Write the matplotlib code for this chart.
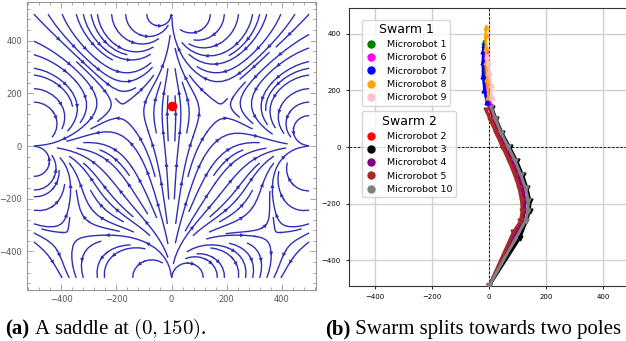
import numpy as np
import matplotlib
matplotlib.use("Agg")
import matplotlib.pyplot as plt
from matplotlib.patches import FancyArrowPatch
from matplotlib.lines import Line2D
from matplotlib.ticker import MultipleLocator

plt.rcParams["mathtext.fontset"] = "cm"

# ---- (a) field of four coils (planar dipoles); bottom strength set so B=0 at the saddle ----
COIL_X = [-500, 500, 0]
COIL_Y = [0, 0, 500]
COIL_MX = [-1.0, 1.0, 0.0]
COIL_MY = [0.0, 0.0, 1.0]
BOTTOM_COIL = (0, -500)
SADDLE = (0, 150)

# ---- (b) trajectories ----
SWARM1 = {
    "Microrobot 1": ("green",   [-5, -12, -17, -19, -18, -17], [165, 210, 260, 310, 350, 371]),
    "Microrobot 6": ("magenta", [0, -6, -10, -12, -12, -10], [160, 200, 250, 300, 330, 345]),
    "Microrobot 7": ("blue",    [-8, -16, -21, -22, -20, -17], [160, 200, 250, 300, 340, 360]),
    "Microrobot 8": ("orange",  [-2, -6, -9, -11, -12, -10], [175, 240, 300, 350, 395, 424]),
    "Microrobot 9": ("pink",    [10, 6, 0, -4, -6], [175, 220, 265, 300, 320]),
}
SWARM2 = {
    "Microrobot 2":  ("red",    [0, 14, 33, 57, 80, 100, 115, 124, 124, 118, 0],
                      [145, 100, 50, 0, -50, -100, -145, -190, -225, -255, -490]),
    "Microrobot 3":  ("black",  [10, 25, 46, 72, 97, 118, 133, 143, 142, 130, 108, 0],
                      [138, 98, 48, 0, -50, -100, -145, -190, -225, -262, -320, -490]),
    "Microrobot 4":  ("purple", [5, 18, 38, 62, 85, 104, 118, 126, 125, 115, 92, 0],
                      [140, 100, 50, 0, -50, -100, -145, -190, -225, -262, -305, -490]),
    "Microrobot 5":  ("brown",  [-10, 5, 24, 47, 70, 90, 105, 114, 116, 110, 85, 0],
                      [130, 95, 50, 0, -50, -100, -145, -190, -225, -262, -300, -490]),
    "Microrobot 10": ("gray",   [8, 22, 42, 68, 92, 112, 128, 138, 136, 128, 0],
                      [140, 100, 50, 0, -50, -100, -145, -190, -225, -260, -490]),
}
TICKS = [-400, -200, 0, 200, 400]

STREAM = "#2e2eb8"


def dipole(xx, yy, x0, y0, mx, my):
    dx, dy = xx - x0, yy - y0
    r = np.hypot(dx, dy) + 1e-9
    rx, ry = dx / r, dy / r
    mr = mx * rx + my * ry
    return (2 * mr * rx - mx) / r**2, (2 * mr * ry - my) / r**2


fig = plt.figure(figsize=(6.26, 3.41), dpi=100)

# ================= (a) =================
ax1 = fig.add_axes([27 / 626, 51 / 341, 289 / 626, 288 / 341])
g = np.linspace(-500, 500, 251)
X, Y = np.meshgrid(g, g)
coils = list(zip(COIL_X, COIL_Y, COIL_MX, COIL_MY))
sx, sy = np.array(float(SADDLE[0])), np.array(float(SADDLE[1]))
others = sum(dipole(sx, sy, *c)[1] for c in coils)
unit = dipole(sx, sy, *BOTTOM_COIL, 0, -1)[1]
coils.append((*BOTTOM_COIL, 0, -others / unit))

U = np.zeros_like(X)
V = np.zeros_like(X)
for c in coils:
    du, dv = dipole(X, Y, *c)
    U += du
    V += dv

sp = ax1.streamplot(X, Y, U, V, density=1.35, color=STREAM, linewidth=1.0,
                    arrowstyle="-", minlength=0.15)
# several arrow heads per streamline, like the original
for seg in sp.lines.get_segments():
    if len(seg) < 3:
        continue
    d = np.hypot(np.diff(seg[:, 0]), np.diff(seg[:, 1]))
    s = np.concatenate([[0], np.cumsum(d)])
    L = s[-1]
    n = max(1, int(L / 150))
    for k in range(1, n + 1):
        i = np.searchsorted(s, L * k / (n + 1))
        i = min(max(i, 1), len(seg) - 2)
        ax1.add_patch(FancyArrowPatch(seg[i], seg[i + 1], arrowstyle="-|>",
                                      mutation_scale=7.5, color=STREAM, lw=0, zorder=3))

ax1.plot(*SADDLE, "o", color="red", ms=6, zorder=4)
ax1.set_xlim(-525, 525)
ax1.set_ylim(-546, 546)
ax1.set_xticks(TICKS)
ax1.set_yticks(TICKS)
ax1.xaxis.set_minor_locator(MultipleLocator(40))
ax1.yaxis.set_minor_locator(MultipleLocator(40))
ax1.tick_params(which="both", direction="in", top=True, right=True,
                colors="#999999", labelcolor="#555555", labelsize=6, width=0.6)
ax1.tick_params(which="major", length=4)
ax1.tick_params(which="minor", length=2)
for sp_ in ax1.spines.values():
    sp_.set_color("#999999")
    sp_.set_linewidth(0.8)

# ================= (b) =================
ax2 = fig.add_axes([349 / 626, 55 / 341, 280 / 626, 278 / 341])
ax2.set_xlim(-490, 490)
ax2.set_ylim(-490, 490)
ax2.set_xticks(TICKS)
ax2.set_yticks(TICKS)
ax2.grid(True, color="#d0d0d0", lw=1.0)
ax2.set_axisbelow(True)
ax2.axhline(0, color="black", ls="--", lw=0.6, dashes=(3, 2))
ax2.axvline(0, color="black", ls="--", lw=0.6, dashes=(3, 2))
ax2.tick_params(labelsize=5, length=2.5, width=0.6)
for sp_ in ax2.spines.values():
    sp_.set_linewidth(0.8)
    sp_.set_color("#333333")

for name, (c, xs, ys) in SWARM2.items():
    ax2.plot(xs, ys, color=c, lw=2.2, marker="v", ms=3.5, zorder=3)
for name, (c, xs, ys) in SWARM1.items():
    ax2.plot(xs, ys, color=c, lw=1.8, marker="^", ms=3.5, zorder=3)


def handles(dct):
    return [Line2D([], [], ls="none", marker="o", color=c, ms=5, label=n)
            for n, (c, _, _) in dct.items()]


leg_kw = dict(loc="upper left", fontsize=6.8, title_fontsize=9, labelspacing=0.45,
              handlelength=1.2, handletextpad=1.1, borderpad=0.35)
leg1 = ax2.legend(handles=handles(SWARM1), title="Swarm 1",
                  bbox_to_anchor=(0.03, 0.975), **leg_kw)
ax2.add_artist(leg1)
ax2.legend(handles=handles(SWARM2), title="Swarm 2",
           bbox_to_anchor=(0.03, 0.645), **leg_kw)

# ================= captions =================
cap = dict(fontsize=15, family="Liberation Serif", va="baseline")
fig.canvas.draw()
rend = fig.canvas.get_renderer()
for x0, tag, rest in [(5, "(a)", " A saddle at $(0, 150)$."),
                      (325, "(b)", " Swarm splits towards two poles")]:
    t = fig.text(x0 / 626, 7 / 341, tag, weight="bold", **cap)
    w = t.get_window_extent(rend).width
    fig.text((x0 + w) / 626, 7 / 341, rest, **cap)

fig.savefig("out.png", dpi=100)
